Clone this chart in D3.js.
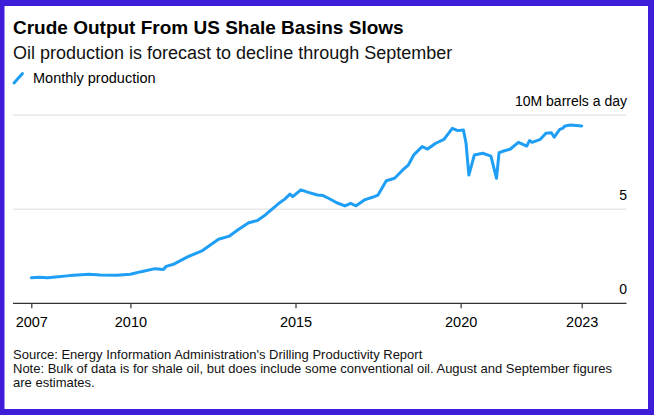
<!DOCTYPE html>
<html>
<head>
<meta charset="utf-8">
<script src="https://cdn.jsdelivr.net/npm/d3@7"></script>
<style>
    body { margin: 0; background: #3f1dd8; }
    text { font-family: "Liberation Sans", Arial, Helvetica, sans-serif; fill: #000; }
</style>
</head>
<body>
<div id="chart"></div>
<script>
// Monthly production, million barrels a day
let months = [
    "2007-01", "2007-04", "2007-07", "2008-03", "2008-10", "2009-02", "2009-08",
    "2010-01", "2010-05", "2010-10", "2011-01", "2011-02", "2011-05", "2011-10",
    "2012-03", "2012-09", "2013-01", "2013-04", "2013-08", "2013-11", "2014-02",
    "2014-07", "2014-09", "2014-11", "2014-12", "2015-03", "2015-06", "2015-09",
    "2015-11", "2016-01", "2016-04", "2016-07", "2016-09", "2016-11", "2017-02",
    "2017-05", "2017-07", "2017-10", "2018-01", "2018-04", "2018-06", "2018-08",
    "2018-11", "2019-01", "2019-04", "2019-07", "2019-10", "2019-12", "2020-02",
    "2020-03", "2020-04", "2020-06", "2020-09", "2020-12", "2021-02", "2021-03",
    "2021-05", "2021-07", "2021-10", "2022-01", "2022-02", "2022-03", "2022-06",
    "2022-08", "2022-10", "2022-11", "2023-01", "2023-02", "2023-03", "2023-05",
    "2023-09"
];
let production = [
    1.36, 1.38, 1.36, 1.47, 1.54, 1.50, 1.49,
    1.54, 1.68, 1.84, 1.80, 1.96, 2.09, 2.48,
    2.78, 3.40, 3.57, 3.89, 4.28, 4.39, 4.69,
    5.31, 5.52, 5.80, 5.66, 6.02, 5.88, 5.75,
    5.72, 5.58, 5.34, 5.17, 5.31, 5.18, 5.49,
    5.63, 5.75, 6.51, 6.64, 7.08, 7.34, 7.88,
    8.32, 8.19, 8.50, 8.71, 9.29, 9.17, 9.20,
    8.50, 6.81, 7.88, 7.97, 7.82, 6.64, 8.00,
    8.10, 8.18, 8.55, 8.35, 8.64, 8.55, 8.71,
    9.03, 9.06, 8.82, 9.24, 9.29, 9.42, 9.47,
    9.42
];
let xTickMonths = ["2007-01", "2010-01", "2015-01", "2020-01", "2023-09"];
let yTicks = [0, 5, 10];
let yTickLabels = ["0", "5", "10M barrels a day"];

let title = "Crude Output From US Shale Basins Slows";
let subtitle = "Oil production is forecast to decline through September";
let legendLabel = "Monthly production";
let notes = [
    "Source: Energy Information Administration's Drilling Productivity Report",
    "Note: Bulk of data is for shale oil, but does include some conventional oil. August and September figures",
    "are estimates."
];

let parseMonth = d3.timeParse("%Y-%m");

function gen_chart() {
    let width = 654,
        height = 415;
    let blue = "#1f9ef5";

    let svg = d3.select("#chart")
        .append("svg")
        .attr("width", width)
        .attr("height", height)
        .style("display", "block");

    // white card inside the purple frame
    svg.append("rect")
        .attr("x", 4.5).attr("y", 6)
        .attr("width", 643.5).attr("height", 403)
        .attr("fill", "#fff");

    let x = d3.scaleTime()
        .domain([parseMonth(months[0]), parseMonth(months[months.length - 1])])
        .range([31.3, 581.7]);

    let y = d3.scaleLinear()
        .domain([0, 10])
        .range([303.3, 115]);

    let left = 13, right = 626.5;

    // Header
    svg.append("text")
        .attr("x", 13).attr("y", 34)
        .style("font-size", "19px").style("font-weight", "bold")
        .text(title);
    svg.append("text")
        .attr("x", 13).attr("y", 58.5)
        .style("font-size", "18px")
        .style("fill", "#111")
        .text(subtitle);

    // Legend
    svg.append("line")
        .attr("x1", 14).attr("y1", 83)
        .attr("x2", 22.5).attr("y2", 73.5)
        .attr("stroke", blue).attr("stroke-width", 3)
        .attr("stroke-linecap", "round");
    svg.append("text")
        .attr("x", 33).attr("y", 82.7)
        .style("font-size", "14.5px")
        .text(legendLabel);

    // Gridlines and y labels
    svg.append("g")
        .selectAll("line")
        .data(yTicks.filter(d => d > 0))
        .enter().append("line")
        .attr("x1", left).attr("x2", right)
        .attr("y1", d => y(d)).attr("y2", d => y(d))
        .attr("stroke", "#dcdcdc").attr("stroke-width", 1);

    svg.append("g")
        .selectAll("text")
        .data(yTicks)
        .enter().append("text")
        .attr("x", 627)
        .attr("y", d => y(d) - 9.5)
        .attr("text-anchor", "end")
        .style("font-size", "14px")
        .text((d, i) => yTickLabels[i]);

    // Baseline + x axis
    svg.append("line")
        .attr("x1", left).attr("x2", right)
        .attr("y1", y(0)).attr("y2", y(0))
        .attr("stroke", "#333").attr("stroke-width", 1.2);

    let xAxis = d3.axisBottom(x)
        .tickValues(xTickMonths.map(parseMonth))
        .tickFormat(d3.timeFormat("%Y"))
        .tickSize(5)
        .tickSizeOuter(0);

    svg.append("g")
        .attr("transform", "translate(0," + y(0) + ")")
        .call(xAxis)
        .call(g => g.select(".domain").remove())
        .call(g => g.selectAll(".tick line").attr("stroke", "#333").attr("stroke-width", 1.2))
        .call(g => g.selectAll(".tick text")
            .attr("y", 13)
            .attr("dy", "0.71em")
            .style("font-family", "'Liberation Sans', Arial, sans-serif")
            .style("font-size", "14.5px")
            .style("fill", "#000"));

    // Production line
    let line = d3.line()
        .x((d, i) => x(parseMonth(months[i])))
        .y(d => y(d));

    svg.append("path")
        .datum(production)
        .attr("d", line)
        .attr("fill", "none")
        .attr("stroke", blue)
        .attr("stroke-width", 3)
        .attr("stroke-linejoin", "round")
        .attr("stroke-linecap", "round");

    // Footer
    svg.append("g")
        .selectAll("text")
        .data(notes)
        .enter().append("text")
        .attr("x", 13)
        .attr("y", (d, i) => 358.5 + i * 14.4)
        .style("font-size", "13px")
        .style("fill", "#111")
        .text(d => d);
}

gen_chart();
</script>
</body>
</html>
